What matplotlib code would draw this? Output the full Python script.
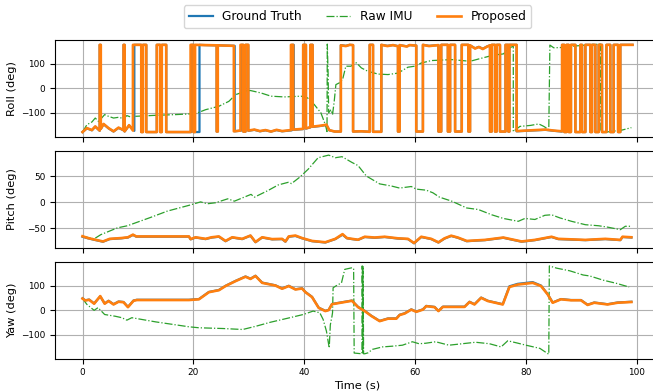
import matplotlib
matplotlib.use("Agg")
import matplotlib.pyplot as plt

# ---------------- data (time in s, angles in deg) ----------------
roll_prop = [
    (0.0, -178), (0.8, -162), (1.7, -170), (2.3, -155), (3.1, -172),
    (3.1, 177), (3.3, 177), (3.3, -165),
    (3.8, -145), (4.7, -162), (5.6, -175), (6.5, -160), (7.4, -170),
    (7.4, 177), (7.6, 177), (7.6, -175),
    (8.4, -150), (9.1, -172),
    (9.1, 177), (10.6, 177), (10.6, -178), (10.9, -178), (10.9, 177), (11.5, 177), (11.5, -178),
    (13.4, -178), (13.4, 177), (14.0, 177), (14.0, -178), (14.3, -178), (14.3, 177), (15.1, 177), (15.1, -178),
    (19.5, -178), (19.5, 177), (20.0, 177), (20.0, -178), (20.3, -178), (20.3, 177),
    (22.0, 176), (24.2, 175), (24.2, -176), (24.4, -176), (24.4, 175), (26.0, 174), (27.3, 173),
    (27.3, -175), (28.5, -172), (28.5, 177), (29.0, 177), (29.0, -176), (29.4, -176), (29.4, 177), (29.9, 177),
    (29.9, -172), (31.0, -168), (32.0, -174), (33.0, -170), (34.0, -176), (35.0, -169), (36.0, -174), (37.6, -170),
    (37.6, 177), (38.0, 177), (38.0, -168), (39.8, -165), (39.8, 177), (40.3, 177), (40.3, -163),
    (41.1, -158), (41.1, 177), (41.5, 177),
    (41.5, -156), (43.0, -152), (44.0, -148), (44.5, -170), (45.5, -176), (46.6, -176),
    (46.6, 175), (47.5, 172), (48.2, 177), (48.8, 176),
    (48.8, -176), (50.3, -175), (51.8, -177),
    (51.8, 177), (52.4, 177), (52.4, -177), (53.9, -177),
    (53.9, 177), (55.0, 172), (56.0, 176), (56.9, 171), (56.9, -176), (57.2, -176), (57.2, 176),
    (58.5, 170), (59.0, 176), (60.2, 174),
    (60.2, -176), (61.4, -176), (61.4, 177), (62.5, 172), (64.2, 176),
    (64.2, -176), (64.7, -176), (64.7, 177), (65.9, 177), (65.9, -176), (66.3, -176), (66.3, 177),
    (67.2, 177), (67.2, -176), (68.4, -176),
    (68.4, 177), (69.6, 177), (69.6, -176), (69.9, -176), (69.9, 175), (70.8, 162), (71.5, 168),
    (72.2, 160), (73.0, 170), (73.5, 175),
    (73.5, -176), (73.8, -176), (73.8, 177), (74.4, 177), (74.4, -176), (74.7, -176), (74.7, 177),
    (75.3, 177), (75.3, -176), (76.3, -176),
    (76.3, 177), (76.8, 177), (76.8, -176), (77.0, -176), (77.0, 177), (78.3, 177),
    (78.3, -174), (80.0, -172), (82.0, -170), (83.5, -168), (85.0, -172), (86.5, -175),
    (86.5, 177), (86.9, 177), (86.9, -178), (87.3, -178), (87.3, 177), (87.7, 177), (87.7, -178),
    (88.1, -178), (88.1, 177), (88.9, 177),
    (88.9, -178), (89.8, -178), (89.8, 177), (90.1, 177), (90.1, -178), (90.7, -178), (90.7, 177),
    (91.6, 177), (91.6, -178), (91.9, -178),
    (91.9, 177), (92.5, 177), (92.5, -178), (93.1, -178), (93.1, 177), (93.7, 177), (93.7, -178),
    (94.5, -178), (94.5, 177), (95.2, 177),
    (95.2, -178), (95.8, -178), (95.8, 177), (96.6, 177), (96.6, -178), (97.0, -178), (97.0, 177), (99.2, 177),
]

roll_gt = [
    (0.0, -178), (0.8, -163), (1.7, -171), (2.3, -156), (3.1, -173),
    (3.1, 177), (3.3, 177), (3.3, -166),
    (3.8, -146), (4.7, -163), (5.6, -176), (6.5, -161), (7.4, -171),
    (7.4, 177), (7.6, 177), (7.6, -176),
    (8.4, -151), (9.35, -173),
    (9.35, 177), (10.6, 177), (10.6, -178), (10.9, -178), (10.9, 177), (11.5, 177), (11.5, -178),
    (13.4, -178), (13.4, 177), (14.0, 177), (14.0, -178), (14.3, -178), (14.3, 177), (15.1, 177), (15.1, -178),
    (19.7, -178), (19.7, 177), (20.1, 177), (20.1, -178), (21.1, -178), (21.1, 177),
    (22.0, 176), (24.2, 175), (24.2, -176), (24.4, -176), (24.4, 175), (26.0, 174), (27.45, 173),
    (27.45, -175), (28.65, -172), (28.65, 177), (29.0, 177), (29.0, -176), (29.4, -176), (29.4, 177), (29.9, 177),
    (29.9, -173), (31.0, -169), (32.0, -175), (33.0, -171), (34.0, -176), (35.0, -170), (36.0, -175), (37.75, -171),
    (37.75, 177), (38.1, 177), (38.1, -169), (39.8, -166), (39.8, 177), (40.3, 177), (40.3, -164),
    (41.1, -159), (41.1, 177), (41.5, 177),
    (41.5, -157), (43.0, -153), (44.0, -149), (44.5, -171), (45.5, -176), (46.6, -176),
    (46.6, 176), (47.5, 173), (48.2, 177), (48.8, 176),
    (48.8, -176), (50.3, -175), (51.8, -177),
    (51.8, 177), (52.4, 177), (52.4, -177), (53.9, -177),
    (53.9, 177), (55.0, 173), (56.0, 176), (56.9, 172), (56.9, -176), (57.2, -176), (57.2, 176),
    (58.5, 171), (59.0, 176), (60.2, 174),
    (60.2, -176), (61.4, -176), (61.4, 177), (62.5, 173), (64.2, 176),
    (64.2, -176), (64.7, -176), (64.7, 177), (65.9, 177), (65.9, -176), (66.3, -176), (66.3, 177),
    (67.2, 177), (67.2, -176), (68.4, -176),
    (68.4, 177), (69.6, 177), (69.6, -176), (69.9, -176), (69.9, 175), (70.8, 163), (71.5, 169),
    (72.2, 161), (73.0, 171), (73.5, 175),
    (73.5, -176), (73.8, -176), (73.8, 177), (74.4, 177), (74.4, -176), (74.7, -176), (74.7, 177),
    (75.3, 177), (75.3, -176), (76.3, -176),
    (76.3, 177), (76.8, 177), (76.8, -176), (77.0, -176), (77.0, 177), (78.3, 177),
    (78.3, -175), (80.0, -173), (82.0, -171), (83.5, -169), (85.0, -173), (86.5, -176),
    (86.5, 177), (86.9, 177), (86.9, -178), (87.3, -178), (87.3, 177), (87.7, 177), (87.7, -178),
    (88.1, -178), (88.1, 177), (88.9, 177),
    (88.9, -178), (89.8, -178), (89.8, 177), (90.1, 177), (90.1, -178), (90.7, -178), (90.7, 177),
    (91.6, 177), (91.6, -178), (91.9, -178),
    (91.9, 177), (92.5, 177), (92.5, -178), (93.1, -178), (93.1, 177), (93.7, 177), (93.7, -178),
    (94.5, -178), (94.5, 177), (95.2, 177),
    (95.2, -178), (95.8, -178), (95.8, 177), (96.6, 177), (96.6, -178), (97.0, -178), (97.0, 177), (99.2, 177),
]

roll_raw = [
    (0.0, -178), (0.8, -148), (1.7, -137), (2.3, -121), (2.9, -135), (4.0, -107), (4.7, -114),
    (5.6, -121), (6.5, -118), (7.4, -123), (8.0, -111), (8.6, -116), (9.5, -114), (13.1, -110),
    (16.8, -107), (20.4, -103), (22.2, -87), (24.6, -73), (26.4, -53), (27.6, -26), (29.7, -9),
    (30.3, -9), (32.2, -19), (34.0, -32), (36.4, -35), (39.4, -32), (40.6, -39), (41.8, -66),
    (43.0, -100), (43.8, -148), (44.1, -176), (44.15, 180), (44.3, 60), (44.4, -100), (44.8, -87),
    (45.1, -107), (45.4, -53), (45.7, 15), (46.3, 22), (46.9, 35), (47.5, 90), (48.4, 90),
    (49.4, 104), (50.3, 83), (51.5, 69), (53.3, 58), (55.1, 56), (56.9, 62), (58.7, 86),
    (59.9, 90), (61.1, 103), (62.9, 113), (66.6, 117), (69.9, 110), (71.7, 121), (74.1, 135),
    (75.9, 140), (77.1, 165), (77.7, 172), (77.7, -176), (78.9, -155), (80.8, -151), (82.3, -145),
    (83.2, -155), (84.1, -168), (84.3, 176), (85.0, 165), (86.2, 166), (88.0, 171), (89.8, 174),
    (91.6, 178), (93.4, 180), (93.5, -179), (94.5, -178), (97.3, -170), (99.0, -160),
]

pitch_prop = [
    (0.0, -65), (1.0, -68.5), (2.2, -71.5), (3.7, -75), (4.9, -70), (7.0, -68.5), (8.2, -67),
    (9.1, -62), (9.7, -65.4), (19.2, -65.4), (19.5, -70.5), (20.4, -67), (22.2, -70), (23.3, -67),
    (24.6, -65.4), (25.8, -74), (27.0, -67), (28.8, -70), (30.3, -63.7), (31.2, -76), (32.4, -67),
    (34.2, -70.5), (36.0, -70), (36.6, -75), (37.2, -65.4), (38.4, -63.7), (39.6, -68.5),
    (41.4, -74), (43.8, -76.5), (45.6, -70), (46.9, -61), (47.7, -68.5), (48.6, -70),
    (49.7, -71.7), (50.9, -66), (52.7, -67.5), (54.5, -66), (56.9, -69), (58.7, -70), (59.8, -78),
    (61.1, -66), (62.9, -70), (64.2, -76.7), (65.3, -69), (66.5, -64), (67.7, -67.5), (69.3, -74),
    (72.6, -72), (75.9, -67.5), (79.2, -75), (81.6, -72), (84.6, -66), (85.8, -70), (90.7, -72),
    (94.3, -70), (97.0, -72), (97.4, -66), (99.0, -67),
]

pitch_gt = [
    (0.0, -66), (1.0, -69), (2.2, -72), (3.7, -75.5), (4.9, -70.5), (7.0, -69), (8.2, -67.5),
    (9.1, -62.5), (9.7, -65.8), (19.2, -65.8), (19.5, -71), (20.4, -67.5), (22.2, -70.5), (23.3, -67.5),
    (24.6, -66), (25.8, -74.5), (27.0, -67.5), (28.8, -70.5), (30.3, -64), (31.2, -76.5), (32.4, -67.5),
    (34.2, -71), (36.0, -70.5), (36.6, -75.5), (37.2, -66), (38.4, -64.5), (39.6, -69),
    (41.4, -74.5), (43.8, -77), (45.6, -70.5), (46.9, -62), (47.7, -69), (48.6, -70.5),
    (49.7, -72), (50.9, -66.5), (52.7, -68), (54.5, -66.5), (56.9, -69.5), (58.7, -70.5), (59.8, -78.5),
    (61.1, -66.5), (62.9, -70.5), (64.2, -77), (65.3, -69.5), (66.5, -64.5), (67.7, -68), (69.3, -74.5),
    (72.6, -72.5), (75.9, -68), (79.2, -75.5), (81.6, -72.5), (84.6, -66.5), (85.8, -70.5), (90.7, -72.5),
    (94.3, -70.5), (97.0, -72.5), (97.4, -66.5), (99.0, -67.5),
]

pitch_raw = [
    (0.0, -65), (2.1, -70), (3.3, -62), (6.3, -49), (8.1, -45), (12.3, -29), (15.3, -17),
    (19.2, -6), (21.3, 0.6), (22.5, -3), (24.0, -1), (26.2, 6.5), (27.4, 2), (30.4, 15),
    (31.0, 9.6), (33.4, 22), (35.3, 33), (37.1, 38), (37.7, 35.6), (39.2, 48), (40.7, 63),
    (42.5, 85), (44.4, 90), (45.6, 85), (46.8, 87), (48.6, 76), (49.7, 70), (51.2, 50),
    (53.6, 35), (55.7, 31), (57.2, 27), (59.3, 30), (60.2, 25), (62.0, 23), (63.2, 18),
    (64.4, 9.6), (66.6, 2), (69.3, -11), (71.4, -14), (73.8, -24), (75.9, -31), (78.6, -36.5),
    (79.8, -31), (81.6, -33), (83.4, -25), (84.6, -24), (86.1, -30), (88.2, -36.5), (90.7, -43),
    (93.1, -45), (94.9, -48), (97.0, -52.5), (97.9, -46), (99.0, -46),
]

yaw_prop = [
    (0.0, 47), (0.5, 39), (1.2, 42), (2.1, 26), (3.2, 57), (4.0, 26), (4.7, 37), (5.6, 23),
    (6.5, 34), (7.4, 32), (8.2, 12), (9.2, 38), (9.8, 41), (19.2, 41), (21.0, 44), (22.8, 73),
    (24.6, 81), (25.8, 98), (27.6, 118), (29.4, 136), (30.3, 127), (31.2, 139), (32.4, 111),
    (34.8, 100), (36.0, 87), (37.2, 98), (38.4, 84), (39.6, 88), (40.2, 73), (41.4, 53),
    (42.6, 9), (43.8, -4), (44.4, 0), (45.0, 24), (46.8, 31), (48.6, 38), (49.7, 12),
    (50.9, -4), (52.1, -24), (53.6, -45), (55.1, -35), (56.6, -35), (57.2, -20), (58.1, -14),
    (59.3, 2), (60.2, -7), (61.4, 2), (62.0, 16), (63.5, 12), (64.2, -4), (65.0, 13), (68.9, 13),
    (69.8, 33), (70.7, 23), (71.9, 50), (73.1, 37), (75.8, 23), (77.0, 94), (78.5, 104),
    (81.2, 111), (82.7, 98), (83.9, 64), (84.8, 30), (86.3, 44), (88.1, 40), (89.9, 40),
    (91.1, 21), (92.3, 30), (94.7, 23), (96.5, 30), (99.0, 33),
]

yaw_gt = [
    (0.0, 48), (0.5, 40), (1.2, 43), (2.1, 27), (3.2, 56), (4.0, 27), (4.7, 38), (5.6, 24),
    (6.5, 35), (7.4, 33), (8.2, 13), (9.2, 39), (9.8, 42), (19.2, 42), (21.0, 45), (22.8, 74),
    (24.6, 82), (25.8, 99), (27.6, 119), (29.4, 137), (30.3, 128), (31.2, 140), (32.4, 112),
    (34.8, 101), (36.0, 88), (37.2, 99), (38.4, 85), (39.6, 89), (40.2, 74), (41.4, 54),
    (42.6, 10), (43.8, -3), (44.4, 1), (45.0, 25), (46.8, 32), (48.6, 39), (49.7, 13),
    (50.9, -3), (52.1, -23), (53.6, -44), (55.1, -34), (56.6, -34), (57.2, -19), (58.1, -13),
    (59.3, 3), (60.2, -6), (61.4, 3), (62.0, 17), (63.5, 13), (64.2, -3), (65.0, 14), (68.9, 14),
    (69.8, 34), (70.7, 24), (71.9, 51), (73.1, 38), (75.8, 24), (77.0, 97), (78.5, 107),
    (81.2, 114), (82.7, 100), (83.9, 65), (84.8, 31), (86.3, 45), (88.1, 41), (89.9, 41),
    (91.1, 22), (92.3, 31), (94.7, 24), (96.5, 31), (99.0, 34),
]

yaw_raw = [
    (0.0, 47), (0.8, 23), (2.1, -1), (2.8, 10), (4.0, -18), (5.9, -25), (7.1, -31), (8.0, -41),
    (8.9, -31), (13.2, -48), (19.2, -68), (21.0, -72), (25.3, -75), (28.9, -79), (31.4, -65),
    (33.8, -50), (37.4, -31), (39.8, -18), (41.6, -4), (42.8, -11), (43.4, -38), (44.0, -86),
    (44.5, -154), (44.7, -60), (45.0, -25), (45.1, -10), (45.2, 91), (46.1, 104), (46.7, 110),
    (47.3, 166), (48.5, 172), (48.9, 170), (49.0, -175), (50.4, -178), (50.45, 180), (50.55, -178),
    (50.6, 180), (50.7, -178), (50.9, -178), (51.5, -174), (52.3, -160), (54.1, -150),
    (55.9, -147), (57.7, -143), (59.5, -129), (60.7, -137), (61.9, -135), (63.7, -129),
    (66.1, -143), (68.5, -137), (70.9, -131), (73.4, -137), (75.5, -150), (76.7, -125),
    (78.2, -133), (80.0, -143), (82.5, -156), (84.1, -180), (84.2, 180), (85.5, 171),
    (87.9, 160), (90.3, 143), (91.5, 139), (93.9, 122), (96.3, 109), (98.6, 94),
]

series_names = ["Ground Truth", "Raw IMU", "Proposed"]
axis_labels = ["Roll (deg)", "Pitch (deg)", "Yaw (deg)"]
x_label = "Time (s)"

# ---------------- figure ----------------
W, H = 653, 392
fig = plt.figure(figsize=(W / 100, H / 100), dpi=100)


def frac_axes(top_px, bot_px):
    left = 55 / W
    width = 605 / W
    return fig.add_axes([left, (H - bot_px) / H, width, (bot_px - top_px) / H])


ax_r = frac_axes(39.7, 136.7)
ax_p = frac_axes(150.7, 247.7)
ax_y = frac_axes(261.5, 358.7)
ax_p.sharex(ax_r)
ax_y.sharex(ax_r)

C_GT, C_RAW, C_PR = "#1f77b4", "#2ca02c", "#ff7f0e"


def draw(ax, gt, raw, prop, label):
    t, v = zip(*gt)
    ax.plot(t, v, color=C_GT, lw=1.6, label=series_names[0])
    t, v = zip(*raw)
    ax.plot(t, v, color=C_RAW, lw=0.9, ls="-.", label=series_names[1])
    t, v = zip(*prop)
    ax.plot(t, v, color=C_PR, lw=1.9, label=series_names[2])
    ax.set_ylabel(label, fontsize=8.2)
    ax.grid(True, color="#b0b0b0", lw=0.8)
    ax.tick_params(labelsize=6.4, length=3.5, width=0.8)


draw(ax_r, roll_gt, roll_raw, roll_prop, axis_labels[0])
draw(ax_p, pitch_gt, pitch_raw, pitch_prop, axis_labels[1])
draw(ax_y, yaw_gt, yaw_raw, yaw_prop, axis_labels[2])

ax_r.set_yticks([-100, 0, 100])
ax_p.set_yticks([-50, 0, 50])
ax_y.set_yticks([-100, 0, 100])
ax_y.set_xticks([0, 20, 40, 60, 80, 100])
ax_r.tick_params(labelbottom=False)
ax_p.tick_params(labelbottom=False)
ax_y.set_xlabel(x_label, fontsize=8.2, labelpad=2)

for ax in (ax_r, ax_p, ax_y):
    ax.yaxis.set_label_coords(-0.062, 0.5)

ax_r.legend(loc="lower center", bbox_to_anchor=(0.5, 1.12), ncol=3, fontsize=8.7,
            borderaxespad=0, columnspacing=2.0, handlelength=2.0, frameon=True)

fig.savefig("out.png", dpi=100)
